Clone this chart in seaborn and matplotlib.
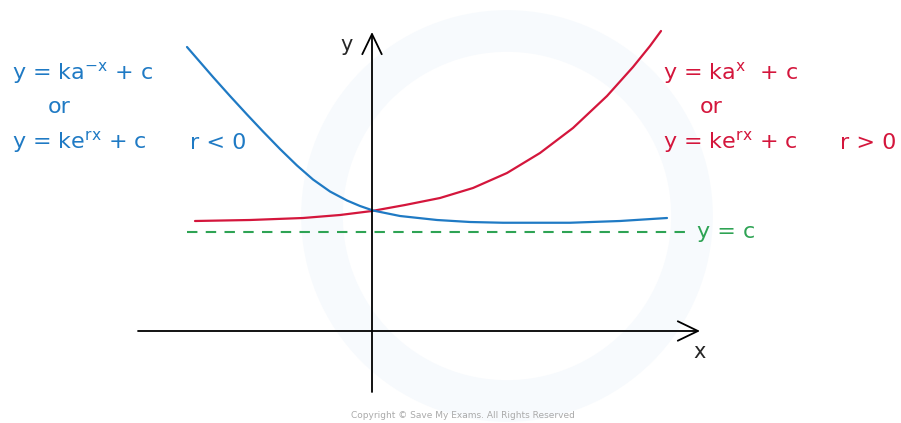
import numpy as np
import pandas as pd
import seaborn as sns
import matplotlib.pyplot as plt
from matplotlib.patches import Circle

# Points, in graph units (origin where the axes cross)
red_x = [-3.54, -2.44, -1.38, -0.64, 0.0, 0.66, 1.36, 2.02, 2.70, 3.36, 4.02, 4.70, 5.22, 5.56, 5.78]
red_y = [2.20, 2.22, 2.26, 2.32, 2.40, 2.52, 2.66, 2.86, 3.16, 3.56, 4.06, 4.70, 5.28, 5.70, 6.00]

blue_x = [-3.70, -3.44, -3.18, -2.84, -2.50, -2.18, -1.84, -1.50, -1.18, -0.84, -0.50, -0.24,
          0.02, 0.56, 1.30, 1.96, 2.62, 3.96, 4.96, 5.90]
blue_y = [5.68, 5.38, 5.08, 4.70, 4.33, 3.99, 3.64, 3.31, 3.03, 2.79, 2.61, 2.50,
          2.41, 2.30, 2.22, 2.18, 2.165, 2.165, 2.20, 2.26]

c_level = 1.98
c_span = [-3.7, 6.36]

x_axis_span = [-4.68, 6.56]
y_axis_span = [-1.22, 5.98]

blue_labels = [r"y = ka$^{\mathregular{-x}}$ + c", "or", r"y = ke$^{\mathregular{rx}}$ + c", "r < 0"]
red_labels = [r"y = ka$^{\mathregular{x}}$  + c", "or", r"y = ke$^{\mathregular{rx}}$ + c", "r > 0"]

BLUE = "#1f7ac4"
RED = "#d4163c"
GREEN = "#2ea354"

sns.set_theme(style="white")
plt.rcParams["font.family"] = ["DejaVu Sans"]
plt.rcParams["mathtext.fontset"] = "dejavusans"

fig = plt.figure(figsize=(9.01, 4.23), dpi=100)
ax = fig.add_axes([0, 0, 1, 1])
ax.set_xlim(-7.44, 10.58)
ax.set_ylim(-1.84, 6.62)
ax.axis("off")

# faint watermark ring
ax.add_patch(Circle((2.7, 2.3), 3.7, fill=False, lw=30, ec="#f7fafd", zorder=0))

curves = pd.concat([
    pd.DataFrame({"x": red_x, "y": red_y, "curve": "growth"}),
    pd.DataFrame({"x": blue_x, "y": blue_y, "curve": "decay"}),
])
sns.lineplot(data=curves, x="x", y="y", hue="curve", palette={"growth": RED, "decay": BLUE},
             sort=False, estimator=None, lw=1.6, legend=False, ax=ax, zorder=3)

# asymptote y = c
ax.plot(c_span, [c_level, c_level], color=GREEN, lw=1.5, dashes=(5, 4), zorder=2)

# axes with open arrow heads
arrow = dict(arrowstyle="->,head_length=1.45,head_width=0.7", color="black", lw=1.3,
             mutation_scale=10, shrinkA=0, shrinkB=0)
ax.annotate("", xy=(x_axis_span[1], 0), xytext=(x_axis_span[0], 0), arrowprops=arrow, zorder=4)
ax.annotate("", xy=(0, y_axis_span[1]), xytext=(0, y_axis_span[0]), arrowprops=arrow, zorder=4)
ax.text(6.56, -0.42, "x", fontsize=15, ha="center", va="center")
ax.text(-0.5, 5.72, "y", fontsize=15, ha="center", va="center")

fs = 16
ax.text(-7.2, 5.16, blue_labels[0], color=BLUE, fontsize=fs, va="center")
ax.text(-6.48, 4.48, blue_labels[1], color=BLUE, fontsize=fs, va="center")
ax.text(-7.2, 3.76, blue_labels[2], color=BLUE, fontsize=fs, va="center")
ax.text(-3.64, 3.76, blue_labels[3], color=BLUE, fontsize=fs, va="center")

ax.text(5.82, 5.16, red_labels[0], color=RED, fontsize=fs, va="center")
ax.text(6.56, 4.48, red_labels[1], color=RED, fontsize=fs, va="center")
ax.text(5.82, 3.76, red_labels[2], color=RED, fontsize=fs, va="center")
ax.text(9.36, 3.76, red_labels[3], color=RED, fontsize=fs, va="center")

ax.text(6.5, c_level, "y = c", color=GREEN, fontsize=fs, va="center")

fig.text(0.514, 0.017, "Copyright © Save My Exams. All Rights Reserved",
         fontsize=6.5, color="#aaaaaa", ha="center", va="center")

fig.savefig("out.png", dpi=100)
